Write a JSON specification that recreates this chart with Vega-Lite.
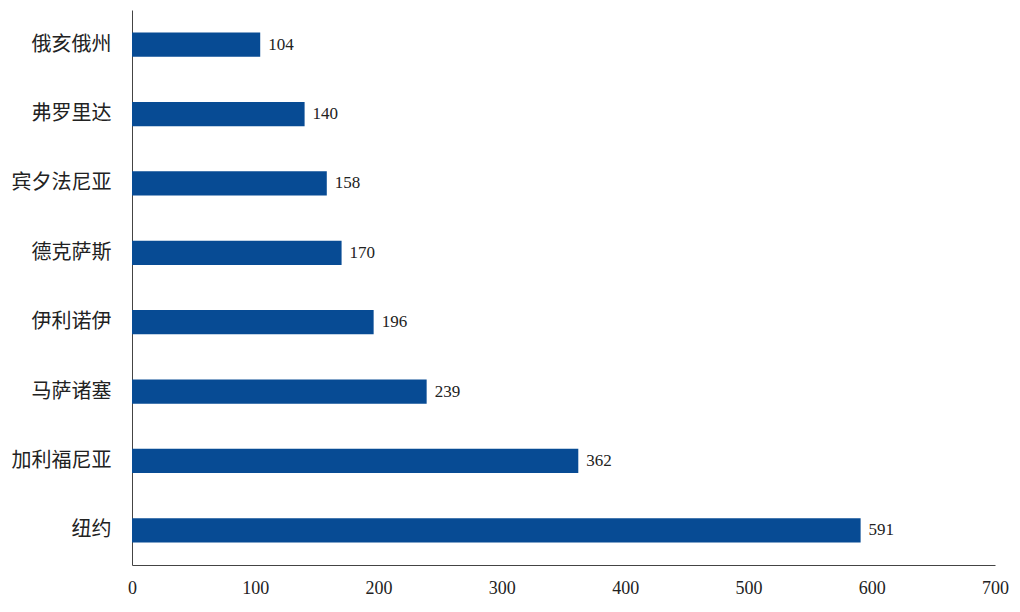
{
  "$schema": "https://vega.github.io/schema/vega-lite/v6.json",
  "autosize": "none",
  "width": 863,
  "height": 555,
  "padding": {"left": 132, "top": 10, "right": 25, "bottom": 47},
  "background": "white",
  "config": {"view": {"stroke": null}},
  "data": {"values": [
    {"state": "俄亥俄州", "value": 104},
    {"state": "弗罗里达", "value": 140},
    {"state": "宾夕法尼亚", "value": 158},
    {"state": "德克萨斯", "value": 170},
    {"state": "伊利诺伊", "value": 196},
    {"state": "马萨诸塞", "value": 239},
    {"state": "加利福尼亚", "value": 362},
    {"state": "纽约", "value": 591}
  ]},
  "encoding": {
    "x": {
      "field": "value", "type": "quantitative",
      "scale": {"domain": [0, 700], "nice": false},
      "axis": {
        "title": null, "values": [0, 100, 200, 300, 400, 500, 600, 700], "ticks": false, "grid": false,
        "domainColor": "#444", "labelFont": "Liberation Serif", "labelFontSize": 18, "labelColor": "#222",
        "labelPadding": 14, "labelFlush": false
      }
    }
  },
  "layer": [
    {"mark": {"type": "bar", "color": "#074b94"},
     "encoding": {"y": {
      "field": "state", "type": "nominal", "sort": null,
      "scale": {"paddingInner": 0.65, "paddingOuter": 0.325},
      "axis": {
        "title": null, "orient": "left", "ticks": false, "domainColor": "#444",
        "labelFont": "Noto Sans CJK SC", "labelFontSize": 20, "labelColor": "#222", "labelPadding": 21, "grid": false
      }}}},
    {"mark": {"type": "text", "align": "left", "baseline": "middle", "dx": 8, "font": "Liberation Serif", "fontSize": 17, "color": "#222"},
     "encoding": {
      "y": {"field": "state", "type": "nominal", "sort": null,
        "scale": {"paddingInner": 0, "paddingOuter": 0},
        "axis": {"title": null, "orient": "left", "labels": false, "domain": false, "ticks": true, "tickSize": 6, "tickColor": "#333", "tickWidth": 1.5, "bandPosition": 0, "offset": -6, "grid": false}},
      "text": {"field": "value", "type": "quantitative"}}}
  ],
  "resolve": {"axis": {"y": "independent"}, "scale": {"y": "independent"}}
}
